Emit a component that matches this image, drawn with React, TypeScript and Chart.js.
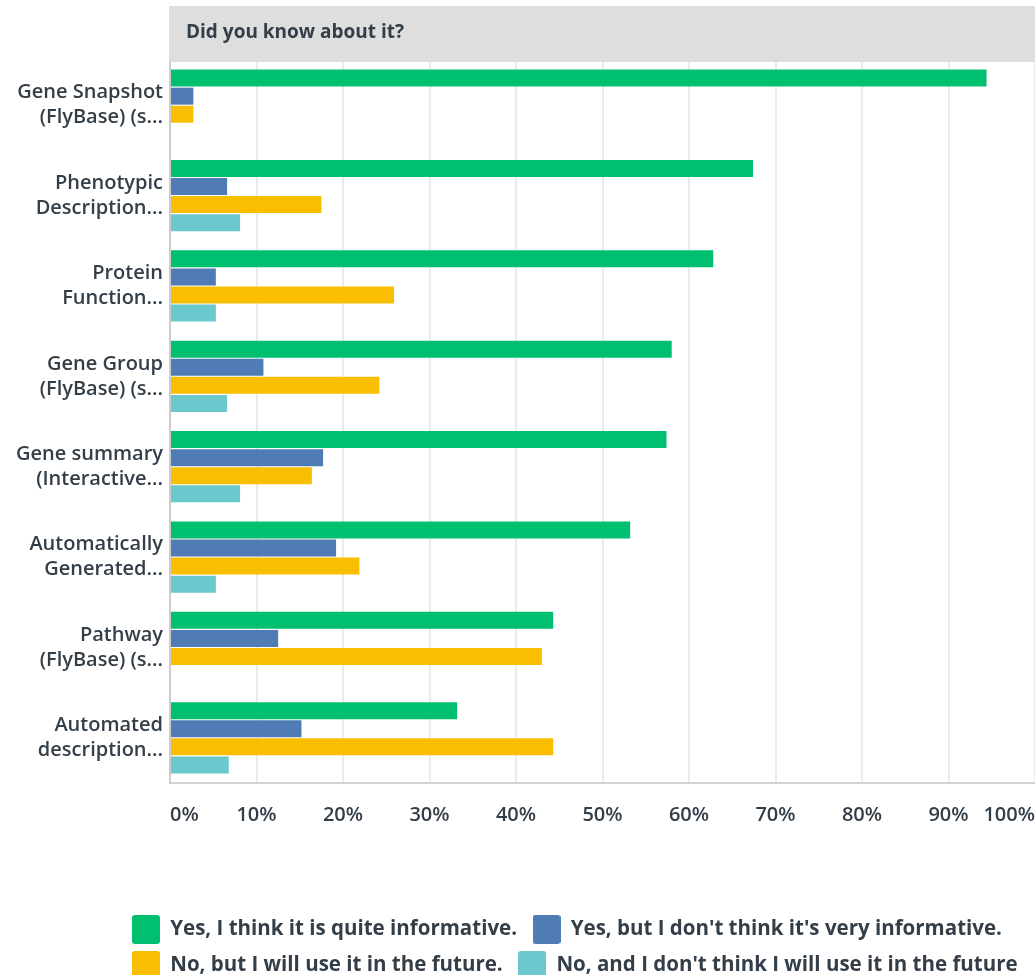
import React, { useEffect, useRef } from "react";
import { Chart, registerables } from "chart.js";

Chart.register(...registerables);

const titleText = "Did you know about it?";

const categories: string[][] = [
  ["Gene Snapshot", "(FlyBase) (s..."],
  ["Phenotypic", "Description..."],
  ["Protein", "Function..."],
  ["Gene Group", "(FlyBase) (s..."],
  ["Gene summary", "(Interactive..."],
  ["Automatically", "Generated..."],
  ["Pathway", "(FlyBase) (s..."],
  ["Automated", "description..."],
];

const seriesNames = [
  "Yes, I think it is quite informative.",
  "Yes, but I don't think it's very informative.",
  "No, but I will use it in the future.",
  "No, and I don't think I will use it in the future",
];

const quiteInformative = [94.4, 67.4, 62.8, 58.0, 57.4, 53.2, 44.3, 33.2];
const notVeryInformative = [2.7, 6.6, 5.3, 10.8, 17.7, 19.2, 12.5, 15.2];
const useInFuture = [2.7, 17.5, 25.9, 24.2, 16.4, 21.9, 43.0, 44.3];
const notUseInFuture = [0, 8.1, 5.3, 6.6, 8.1, 5.3, 0, 6.8];

const xTickLabels = ["0%", "10%", "20%", "30%", "40%", "50%", "60%", "70%", "80%", "90%", "100%"];

const colors = ["#00BF6F", "#507CB6", "#F9BE00", "#6BC8CD"];

const TEXT = "#333e48";
const FONT = "'Open Sans', 'DejaVu Sans', sans-serif";

const W = 1035;
const H = 975;

const LEGEND_FONT = 20.5;
const LEGEND_PAD = 15.5;

function makeSwatch(color: string): HTMLCanvasElement {
  const c = document.createElement("canvas");
  c.width = 28;
  c.height = 29;
  const g = c.getContext("2d")!;
  g.fillStyle = color;
  g.beginPath();
  if ((g as any).roundRect) {
    (g as any).roundRect(0, 0, 28, 29, 3);
  } else {
    g.rect(0, 0, 28, 29);
  }
  g.fill();
  return c;
}

const headerPlugin = {
  id: "headerBand",
  afterLayout(chart: any) {
    if (chart.legend) {
      chart.legend.left = 132 - LEGEND_PAD;
      chart.legend.top = 915 + 14.5 - LEGEND_FONT / 2 - LEGEND_PAD;
    }
  },
  afterDraw(chart: any) {
    const ctx = chart.ctx;
    ctx.save();
    ctx.fillStyle = "#dedede";
    ctx.fillRect(169, 6, W - 169, 56);
    ctx.fillStyle = TEXT;
    ctx.font = `700 19px ${FONT}`;
    ctx.textBaseline = "middle";
    ctx.textAlign = "left";
    ctx.fillText(titleText, 186, 33);
    ctx.restore();
  },
};

export default function App() {
  const ref = useRef<HTMLCanvasElement | null>(null);

  useEffect(() => {
    if (!ref.current) return;
    const series = [quiteInformative, notVeryInformative, useInFuture, notUseInFuture];
    const swatches = colors.map(makeSwatch);
    const chart = new Chart(ref.current, {
      type: "bar",
      data: {
        labels: categories,
        datasets: series.map((d, i) => ({
          label: seriesNames[i],
          data: d,
          backgroundColor: colors[i],
          borderWidth: 0,
          categoryPercentage: 0.8,
          barPercentage: 0.94,
        })),
      },
      plugins: [headerPlugin],
      options: {
        indexAxis: "y",
        responsive: false,
        animation: false,
        devicePixelRatio: 1,
        layout: { padding: { top: 60, left: 0, right: 0, bottom: 0 } },
        font: { family: FONT },
        plugins: {
          title: { display: false },
          tooltip: { enabled: false },
          legend: {
            display: true,
            position: "bottom",
            align: "start",
            labels: {
              usePointStyle: true,
              pointStyleWidth: 28,
              padding: LEGEND_PAD,
              color: TEXT,
              font: { family: FONT, size: LEGEND_FONT, weight: "700" },
              generateLabels: (c: any) => {
                const items = (Chart.defaults.plugins.legend.labels as any).generateLabels(c);
                items.forEach((it: any, i: number) => {
                  it.pointStyle = swatches[i];
                  it.lineWidth = 0;
                });
                return items;
              },
            },
          },
        },
        scales: {
          x: {
            type: "linear",
            min: 0,
            max: 100,
            ticks: {
              stepSize: 10,
              align: "inner",
              padding: 20,
              color: TEXT,
              font: { family: FONT, size: 20, weight: "600" },
              callback: (_v: any, i: number) => xTickLabels[i],
            },
            grid: { color: "#ebebeb", lineWidth: 2, drawTicks: false },
            border: { display: true, color: "#d2d2d2", width: 2 },
            afterFit: (scale: any) => {
              const lh = scale.chart.legend ? scale.chart.legend.height : 82;
              scale.height = H - 783 - lh;
              scale.paddingLeft = 0;
              scale.paddingRight = 0;
            },
          },
          y: {
            type: "category",
            ticks: {
              padding: 7,
              color: TEXT,
              font: { family: FONT, size: 20, weight: "600", lineHeight: 1.25 },
            },
            grid: { display: false, drawTicks: false },
            border: { display: true, color: "#cccccc", width: 2 },
            afterFit: (scale: any) => {
              scale.width = 170;
            },
          },
        },
      },
    } as any);
    return () => chart.destroy();
  }, []);

  return (
    <div style={{ position: "absolute", left: 0, top: 0, width: W, height: H, overflow: "hidden", background: "#fff" }}>
      <canvas ref={ref} width={W} height={H} style={{ display: "block", width: W, height: H }} />
    </div>
  );
}
